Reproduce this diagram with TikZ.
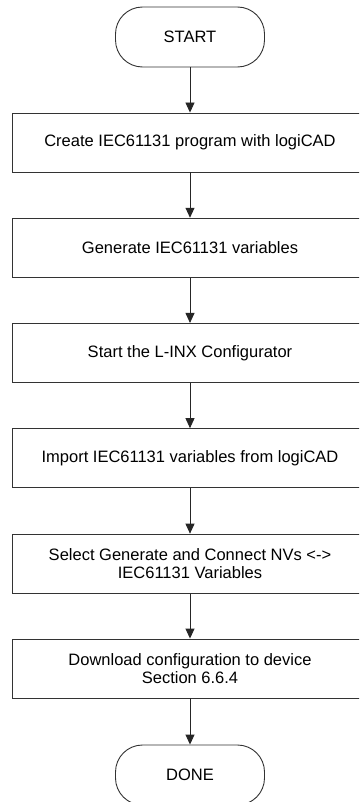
\documentclass[tikz,border=0pt]{standalone}
\usepackage{fontspec}
\setmainfont{Liberation Sans}
\usetikzlibrary{arrows.meta}
\begin{document}
\begin{tikzpicture}[x=1bp,y=-1bp,
  every node/.style={font=\fontsize{16.5bp}{18.5bp}\selectfont, inner sep=0pt},
  term/.style={draw=black!80, line width=0.9bp, rounded corners=27bp,
    minimum width=149bp, minimum height=60bp},
  stepbox/.style={draw=black!80, line width=0.9bp,
    minimum width=356bp, minimum height=59bp, align=center},
  flow/.style={draw=black!85, line width=0.9bp, -{Triangle[width=9bp,length=10bp]}}]
\useasboundingbox (0,0) rectangle (359,802);
\clip (0,0) rectangle (359,802);
\fill[white] (0,0) rectangle (359,802);
\node[term] (start) at (190,37) {START};
\node[stepbox] (b1) at (190,142.5) {Create IEC61131 program with logiCAD};
\node[stepbox] (b2) at (190,247.7) {Generate IEC61131 variables};
\node[stepbox] (b3) at (190,352.9) {Start the L-INX Configurator};
\node[stepbox] (b4) at (190,458.1) {Import IEC61131 variables from logiCAD};
\node[stepbox] (b5) at (190,563.6) {Select Generate and Connect NVs <->\\IEC61131 Variables};
\node[stepbox] (b6) at (190,668.5) {Download configuration to device\\Section 6.6.4};
\node[term] (done) at (190,775) {DONE};
\draw[flow] (start) -- (b1);
\draw[flow] (b1) -- (b2);
\draw[flow] (b2) -- (b3);
\draw[flow] (b3) -- (b4);
\draw[flow] (b4) -- (b5);
\draw[flow] (b5) -- (b6);
\draw[flow] (b6) -- (done);
\end{tikzpicture}
\end{document}
